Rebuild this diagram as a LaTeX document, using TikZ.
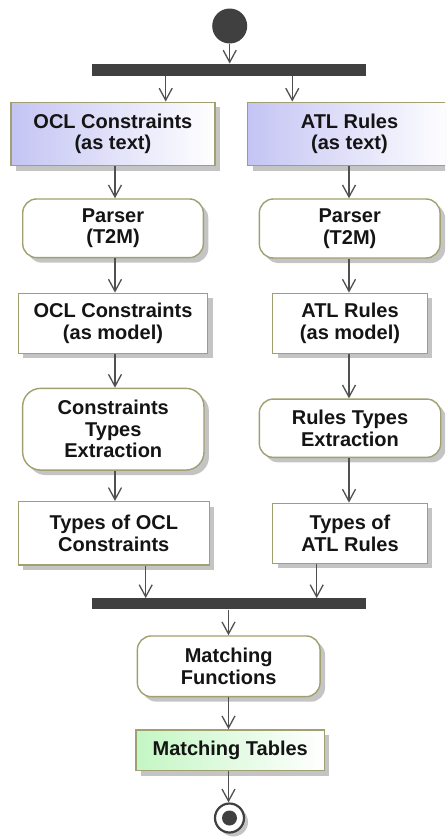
\documentclass[tikz,border=0pt]{standalone}
\usepackage{fontspec}
\setmainfont{Liberation Sans}
\usetikzlibrary{arrows.meta,shadows}

\definecolor{edgeolive}{HTML}{A0A070}
\definecolor{barfill}{HTML}{404040}
\definecolor{flowgrey}{HTML}{505050}
\definecolor{lavender}{HTML}{C4C4F4}
\definecolor{mint}{HTML}{C4F6C4}
\definecolor{inktext}{HTML}{141414}
\definecolor{shadowgrey}{HTML}{C4C4C4}

\tikzset{
  base/.style={draw=edgeolive, line width=1.4pt, align=center,
    font=\fontsize{20}{21.5}\selectfont\bfseries, text=inktext, inner sep=0pt,
    drop shadow={shadow xshift=5pt, shadow yshift=-5pt, fill=shadowgrey, opacity=1}},
  objbox/.style={base, rectangle, fill=white},
  actbox/.style={base, rectangle, rounded corners=14pt, fill=white},
  textobj/.style={objbox, left color=lavender, right color=white},
  tableobj/.style={objbox, left color=mint, right color=white},
  barnode/.style={rectangle, fill=barfill, inner sep=0pt, minimum width=274.3pt},
  startdot/.style={circle, fill=barfill, inner sep=0pt, minimum size=35pt},
  endring/.style={circle, draw=barfill, line width=2.2pt, fill=white, inner sep=0pt,
    minimum size=29pt, drop shadow={shadow xshift=4pt, shadow yshift=-4pt, fill=shadowgrey, opacity=1}},
  enddot/.style={circle, fill=barfill, inner sep=0pt, minimum size=15pt},
  flow/.style={draw=flowgrey, line width=1.3pt,
    -{Straight Barb[length=12pt,width=13pt,line width=1.3pt]}},
}

\begin{document}
\begin{tikzpicture}[x=1pt, y=-1pt]
  \clip (0,0) rectangle (445,839);
  \useasboundingbox (0,0) rectangle (445,839);

  % start, fork
  \node[startdot] (start) at (229.7,26) {};
  \node[barnode, minimum height=12.5pt] (forkbar) at (228.8,70) {};

  % left column: OCL constraints
  \node[textobj, minimum width=204pt, minimum height=63.5pt] (ocltext) at (112.9,134) {OCL Constraints\\(as text)};
  \node[actbox, minimum width=180.6pt, minimum height=58.7pt] (oclparser) at (113,228.3) {Parser\\(T2M)};
  \node[objbox, minimum width=189.4pt, minimum height=60pt] (oclmodel) at (113,323.3) {OCL Constraints\\(as model)};
  \node[actbox, rounded corners=18pt, minimum width=181.3pt, minimum height=81.7pt] (oclextract) at (113.3,429.2) {Constraints\\Types\\Extraction};
  \node[objbox, minimum width=191pt, minimum height=63.3pt] (ocltypes) at (113.8,533.3) {Types of OCL\\Constraints};

  % right column: ATL rules
  \node[textobj, minimum width=204pt, minimum height=63.5pt] (atltext) at (349.5,134) {ATL Rules\\(as text)};
  \node[actbox, minimum width=180.7pt, minimum height=59pt] (atlparser) at (349.7,228.5) {Parser\\(T2M)};
  \node[objbox, minimum width=154.6pt, minimum height=60pt] (atlmodel) at (350,323.3) {ATL Rules\\(as model)};
  \node[actbox, minimum width=181.4pt, minimum height=58.3pt] (atlextract) at (350,428.2) {Rules Types\\Extraction};
  \node[objbox, minimum width=154.6pt, minimum height=60pt] (atltypes) at (350,533.3) {Types of\\ATL Rules};

  % join and matching
  \node[barnode, minimum height=11pt] (joinbar) at (228.8,603.8) {};
  \node[actbox, minimum width=182.7pt, minimum height=60.7pt] (matchfun) at (228.7,666.3) {Matching\\Functions};
  \node[tableobj, minimum width=188.3pt, minimum height=40.7pt] (matchtab) at (230.2,750.3) {Matching Tables};
  \node[endring] (finish) at (229.5,818) {};
  \node[enddot] (finishdot) at (finish) {};

  % vertical lanes for the connectors
  \coordinate (xa) at (165.7,0);
  \coordinate (xb) at (292.3,0);
  \coordinate (xl) at (115,0);
  \coordinate (xr) at (349,0);
  \coordinate (xc) at (145.7,0);
  \coordinate (xd) at (316.7,0);
  \coordinate (xm) at (228.5,0);

  \draw[flow] (start.south) -- (start.south |- forkbar.north);
  \draw[flow] (forkbar.south -| xa) -- (ocltext.north -| xa);
  \draw[flow] (forkbar.south -| xb) -- (atltext.north -| xb);

  \draw[flow] (ocltext.south -| xl) -- (oclparser.north -| xl);
  \draw[flow] (oclparser.south -| xl) -- (oclmodel.north -| xl);
  \draw[flow] (oclmodel.south -| xl) -- (oclextract.north -| xl);
  \draw[flow] (oclextract.south -| xl) -- (ocltypes.north -| xl);

  \draw[flow] (atltext.south -| xr) -- (atlparser.north -| xr);
  \draw[flow] (atlparser.south -| xr) -- (atlmodel.north -| xr);
  \draw[flow] (atlmodel.south -| xr) -- (atlextract.north -| xr);
  \draw[flow] (atlextract.south -| xr) -- (atltypes.north -| xr);

  \draw[flow] (ocltypes.south -| xc) -- (joinbar.north -| xc);
  \draw[flow] (atltypes.south -| xd) -- (joinbar.north -| xd);

  \draw[flow] (joinbar.south -| xm) -- (matchfun.north -| xm);
  \draw[flow] (matchfun.south -| xm) -- (matchtab.north -| xm);
  \draw[flow] (matchtab.south -| xm) -- (finish.north -| xm);
\end{tikzpicture}
\end{document}
